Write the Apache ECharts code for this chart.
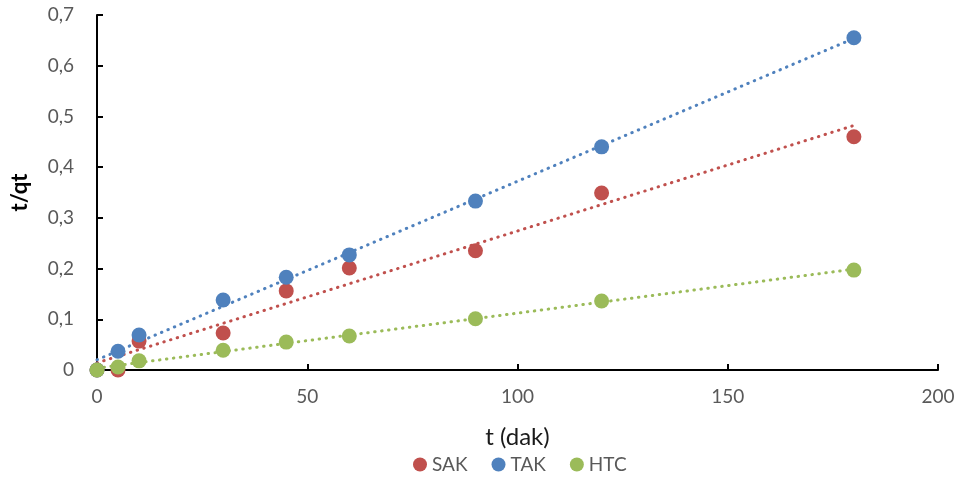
<!DOCTYPE html>
<html>
<head>
<meta charset="utf-8">
<script src="https://cdn.jsdelivr.net/npm/echarts@6/dist/echarts.min.js"></script>
<style>
  html, body { margin: 0; padding: 0; background: #fff; }
  #chart { width: 963px; height: 482px; }
</style>
</head>
<body>
<div id="chart"></div>
<script>
// time points (dak)
const times = [0, 5, 10, 30, 45, 60, 90, 120, 180];

// t/qt values
const sak = [0, 0, 0.057, 0.073, 0.156, 0.201, 0.235, 0.349, 0.46];
const tak = [0, 0.037, 0.069, 0.138, 0.183, 0.227, 0.333, 0.44, 0.655];
const htc = [0, 0.006, 0.018, 0.039, 0.055, 0.067, 0.101, 0.136, 0.197];

const seriesNames = ['SAK', 'TAK', 'HTC'];
const colors = ['#C0504D', '#4F81BD', '#9BBB59'];

// least squares trendline, like the spreadsheet's linear trendline
function trend(xs, ys) {
  const n = xs.length;
  const mx = xs.reduce((a, b) => a + b, 0) / n;
  const my = ys.reduce((a, b) => a + b, 0) / n;
  let sxy = 0;
  let sxx = 0;
  for (let i = 0; i < n; i++) {
    sxy += (xs[i] - mx) * (ys[i] - my);
    sxx += (xs[i] - mx) * (xs[i] - mx);
  }
  const slope = sxy / sxx;
  const icpt = my - slope * mx;
  const x0 = Math.min(...xs);
  const x1 = Math.max(...xs);
  return [[x0, icpt + slope * x0], [x1, icpt + slope * x1]];
}

const allValues = [sak, tak, htc];
const font = 'Lato, "Open Sans", sans-serif';

const series = [];
allValues.forEach((vals, i) => {
  series.push({
    name: seriesNames[i] + ' trend',
    type: 'line',
    data: trend(times, vals),
    showSymbol: false,
    silent: true,
    z: 1,
    lineStyle: { color: colors[i], width: 3, type: [0.5, 6.5], cap: 'round' }
  });
});
allValues.forEach((vals, i) => {
  series.push({
    name: seriesNames[i],
    type: 'scatter',
    data: times.map((t, j) => [t, vals[j]]),
    symbolSize: 15,
    z: 3,
    itemStyle: { color: colors[i], opacity: 1 }
  });
});

const chart = echarts.init(document.getElementById('chart'));
chart.setOption({
  animation: false,
  color: colors,
  textStyle: { fontFamily: font },
  grid: { left: 97, right: 25, top: 15, bottom: 112, containLabel: false },
  legend: {
    data: seriesNames,
    bottom: 3,
    left: 408,
    icon: 'circle',
    itemWidth: 14,
    itemHeight: 14,
    itemGap: 24,
    textStyle: { color: '#595959', fontSize: 19, fontFamily: font }
  },
  xAxis: {
    type: 'value',
    min: 0,
    max: 200,
    interval: 50,
    name: 't (dak)',
    nameLocation: 'middle',
    nameGap: 55,
    nameTextStyle: { color: '#1a1a1a', fontSize: 24, fontFamily: font },
    axisLine: { lineStyle: { color: '#000', width: 2 } },
    axisTick: { inside: true, length: 6, lineStyle: { color: '#000', width: 2 } },
    axisLabel: { color: '#595959', fontSize: 19, margin: 17 },
    splitLine: { show: false }
  },
  yAxis: {
    type: 'value',
    min: 0,
    max: 0.7,
    interval: 0.1,
    name: 't/qt',
    nameLocation: 'middle',
    nameGap: 66,
    nameTextStyle: { color: '#000', fontSize: 22, fontWeight: 'bold', fontFamily: font },
    axisLine: { show: true, lineStyle: { color: '#000', width: 2 } },
    axisTick: { show: true, inside: true, length: 6, lineStyle: { color: '#000', width: 2 } },
    axisLabel: {
      color: '#595959',
      fontSize: 19,
      margin: 23,
      formatter(v) {
        return v === 0 ? '0' : v.toFixed(1).replace('.', ',');
      }
    },
    splitLine: { show: false }
  },
  series
});
</script>
</body>
</html>
